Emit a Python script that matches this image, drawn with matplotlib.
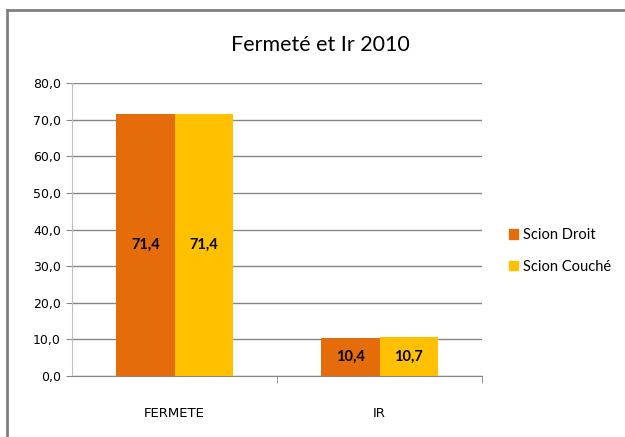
import matplotlib.pyplot as plt
from matplotlib.lines import Line2D
import numpy as np

categories = ["FERMETE", "IR"]
series_names = ["Scion Droit", "Scion Couché"]
scion_droit = [71.4, 10.4]
scion_couche = [71.4, 10.7]
y_ticks = [0, 10, 20, 30, 40, 50, 60, 70, 80]

colors = ["#E46C0A", "#FFC000"]
grid_col = "#868686"

plt.rcParams["font.family"] = ["Lato", "DejaVu Sans"]

fig = plt.figure(figsize=(6.25, 4.37), dpi=100)
ax = fig.add_axes([72 / 625, 1 - 376 / 437, 410 / 625, 293 / 437])

x = np.arange(len(categories))
w = 0.283
for i, (vals, name) in enumerate(zip([scion_droit, scion_couche], series_names)):
    b = ax.bar(x + (i - 0.5) * w, vals, w, color=colors[i], label=name, zorder=3)
    for rect, v in zip(b, vals):
        ax.text(rect.get_x() + rect.get_width() / 2, v / 2,
                f"{v:.1f}".replace(".", ","), ha="center", va="center",
                fontsize=10.5, fontweight="bold", color="black", zorder=4)

ax.set_xlim(-0.5, 1.5)
ax.set_ylim(0, 80)
ax.set_yticks(y_ticks)
ax.set_yticklabels([f"{t:.1f}".replace(".", ",") for t in y_ticks],
                   fontfamily="DejaVu Sans", fontsize=9)
ax.yaxis.grid(True, color=grid_col, linewidth=1, zorder=0)
ax.tick_params(axis="y", length=4, color=grid_col, pad=4)

ax.set_xticks(x)
ax.set_xticklabels(categories, fontfamily="DejaVu Sans", fontsize=9.5)
ax.tick_params(axis="x", length=0, pad=22)
ax.set_xticks([0.5, 1.5], minor=True)
ax.tick_params(axis="x", which="minor", length=5, color=grid_col)

for s in ["top", "right"]:
    ax.spines[s].set_visible(False)
ax.spines["left"].set_color("#BFBFBF")
ax.spines["bottom"].set_color(grid_col)

fig.text(320 / 625, 1 - 45 / 437, "Fermeté et Ir 2010", ha="center",
         va="center", fontsize=15.5)

handles = [plt.Rectangle((0, 0), 1, 1, color=c) for c in colors]
fig.legend(handles, series_names, loc="center left",
           bbox_to_anchor=(496 / 625, 1 - 251 / 437), frameon=False,
           fontsize=10.5, handlelength=0.6, handleheight=0.6,
           handletextpad=0.35, labelspacing=1.2)

# chart frame (only left and top edges visible)
fig.add_artist(Line2D([7 / 625, 7 / 625], [0, 1 - 10 / 437],
                      transform=fig.transFigure, color="#808080", linewidth=2))
fig.add_artist(Line2D([7 / 625, 1], [1 - 10 / 437, 1 - 10 / 437],
                      transform=fig.transFigure, color="#808080", linewidth=2))

fig.savefig("out.png", dpi=100)
